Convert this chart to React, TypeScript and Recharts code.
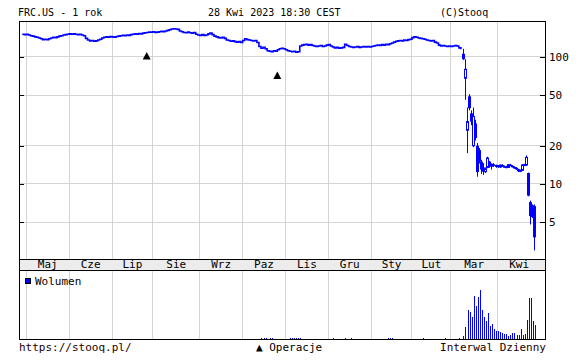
import React from "react";
import {
  ComposedChart,
  BarChart,
  Bar,
  Line,
  Scatter,
  XAxis,
  YAxis,
  CartesianGrid,
} from "recharts";

const BLUE = "#0000ff";
const GRID = "#d4d4d4";
const INK = "#000";
const FONT = "'DejaVu Sans Mono', monospace";

// layout (px)
const W = 585;
const PLOT_L = 19;
const PLOT_R = 545;
const PRICE_TOP = 21;
const PRICE_BOTTOM = 259;
const BAND_BOTTOM = 270;
const VOL_TOP = 271;
const VOL_BOTTOM = 339;
const BODY_W = 3;

// x axis = trading day index (0 = 28 Apr 2022 ... 251 = 28 Apr 2023)
const monthNames = ["Maj", "Cze", "Lip", "Sie", "Wrz", "Paz", "Lis", "Gru", "Sty", "Lut", "Mar", "Kwi"];
const monthStarts = [2, 23, 44, 64, 87, 108, 129, 150, 171, 191, 210, 233];
const lastMonthEnd = 254;
const priceTicks = [5, 10, 20, 50, 100];

// daily closes before the crash (index 0-215)
const quietClose = [
  151, 150, 151, 149, 147, 146, 144, 143, 141, 139,
  137, 138, 137, 139, 141, 143, 142, 144, 146, 147,
  149, 150, 151, 152, 151, 152, 151, 150, 151, 149,
  147, 140, 136, 134, 135, 133, 134, 136, 138, 141,
  143, 144, 143, 145, 144, 143, 145, 146, 147, 148,
  147, 149, 148, 150, 151, 152, 151, 153, 152, 154,
  155, 156, 157, 157, 158, 156, 157, 158, 159, 158,
  160, 162, 164, 166, 167, 166, 165, 160, 158, 156,
  155, 157, 155, 154, 156, 151, 149, 148, 150, 148,
  149, 152, 154, 150, 146, 144, 142, 141, 143, 140,
  136, 135, 133, 134, 132, 131, 132, 130, 135, 139,
  137, 136, 135, 134, 135, 130, 121, 117, 119, 116,
  112, 111, 110, 112, 111, 114, 116, 117, 116, 114,
  112, 111, 110, 111, 109, 110, 122, 124, 125, 126,
  124, 125, 123, 122, 121, 122, 123, 121, 122, 124,
  125, 122, 120, 118, 119, 117, 118, 119, 126, 123,
  121, 120, 119, 120, 121, 119, 120, 121, 120, 121,
  120, 121, 122, 123, 124, 123, 125, 124, 126, 125,
  127, 129, 131, 133, 134, 135, 134, 136, 135, 137,
  138, 142, 144, 143, 141, 140, 139, 138, 136, 135,
  134, 135, 131, 129, 124, 122, 123, 122, 121, 122,
  121, 122, 123, 122, 118, 115,
];

// candles from 9 Mar 2023 (index 216) to 28 Apr 2023 (index 251)
const crashStart = 216;
const crashOpen = [
  106, 68, 26.5, 49, 36, 20, 30, 20, 18.5, 15, 13.5, 12.5, 13.5, 15, 13.8, 14.3, 13.8, 14,
  13.6, 14.1, 13.8, 13.7, 13.5, 14.2, 13.9, 13.6, 13.4, 13.1, 12.6, 12.8, 14.1, 14.1, 12.2, 7.2, 6.8, 6.7,
];
const crashHigh = [
  116, 96, 40, 51, 38, 40, 32, 21, 19.2, 15.5, 14.6, 13.5, 16.4, 15.2, 14.5, 14.6, 14.2, 14.1,
  14.2, 14.3, 14, 13.9, 14.3, 14.4, 14.1, 13.8, 13.6, 13.2, 13, 14.3, 14.4, 16.8, 12.3, 7.4, 6.9, 6.9,
];
const crashLow = [
  95, 46, 17.5, 38, 29, 19.5, 22, 11.4, 14.5, 12, 11.8, 12.2, 13.3, 13.4, 13, 13.6, 13.4, 13.4,
  13.4, 13.6, 13.5, 13.3, 13.4, 13.8, 13.5, 13.2, 12.9, 12.4, 12.4, 12.7, 13.9, 13.9, 8, 4.8, 5.4, 3,
];
const crashClose = [
  96, 80, 31, 39.5, 31, 34, 23, 12.4, 15, 13, 12.5, 13.2, 16, 13.8, 14.3, 13.9, 14, 13.6,
  14.1, 13.8, 13.7, 13.5, 14.2, 13.9, 13.6, 13.4, 13.1, 12.6, 12.8, 14.1, 14.2, 16.2, 8.1, 5.6, 5.5, 3.8,
];

// volume (mln)
const crashVolume = [
  6, 24, 58, 54, 44, 86, 66, 84, 98, 58, 44, 36, 52, 26, 30, 20, 16, 16,
  14, 12, 10, 10, 6, 8, 12, 12, 8, 8, 20, 8, 10, 38, 82, 82, 36, 28,
];
const quietVolumeDays = [117, 118, 119, 121, 122, 131, 132, 133, 134, 135, 136, 152, 158, 161, 179, 180, 181, 196, 207, 214];
const quietVolumeValues = [2, 2, 2, 2, 2, 2, 2, 2, 2, 2, 2, 2, 2, 2, 2, 2, 2, 2, 2, 2];

// operations (dividends)
const opsDays = [61, 125];
const opsLevel = [102, 71.5];

const xDomain = [-1.6, 256.2];
const priceDomain = [2.567, 192];
const volDomain = [0, 136];

const rows: any[] = [];
for (let i = 0; i < crashStart + crashClose.length; i++) {
  const row: any = { i, vol: 0 };
  if (i < crashStart) {
    row.line = quietClose[i];
  } else {
    const k = i - crashStart;
    row.open = crashOpen[k];
    row.high = crashHigh[k];
    row.low = crashLow[k];
    row.close = crashClose[k];
    row.range = [crashLow[k], crashHigh[k]];
    row.vol = crashVolume[k];
  }
  rows.push(row);
}
quietVolumeDays.forEach((d, j) => {
  rows[d].vol = quietVolumeValues[j];
});

const opsData = opsDays.map((d, j) => ({ i: d, v: opsLevel[j] }));

const monthMids = monthStarts.map((s, k) => (s + (monthStarts[k + 1] ?? lastMonthEnd)) / 2);

const Candle = (props: any) => {
  const { x, y, width, height, payload } = props;
  if (!payload || !payload.range || !isFinite(y) || !isFinite(height)) return null;
  const { open, close, high, low } = payload;
  const lh = Math.log(high);
  const ll = Math.log(low);
  const toY = (v: number) => y + (height * (lh - Math.log(v))) / (lh - ll);
  const cx = Math.round(x + width / 2);
  const top = toY(Math.max(open, close));
  const bot = toY(Math.min(open, close));
  const hollow = close > open;
  const left = cx - 1;
  return (
    <g>
      <line x1={cx + 0.5} x2={cx + 0.5} y1={y} y2={y + height} stroke={BLUE} strokeWidth={1} />
      {hollow ? (
        <rect x={left + 0.5} y={top} width={BODY_W - 1} height={Math.max(bot - top, 1)} fill="#fff" stroke={BLUE} strokeWidth={1} />
      ) : (
        <rect x={left} y={top} width={BODY_W} height={Math.max(bot - top, 1.5)} fill={BLUE} />
      )}
    </g>
  );
};

const Tri = (props: any) => {
  const { cx, cy } = props;
  return <path d={`M${cx},${cy - 4} L${cx + 4},${cy + 3.5} L${cx - 4},${cy + 3.5} Z`} fill={INK} />;
};

const MonthMark = (props: any) => {
  const x = Math.round(props.x) + 0.5;
  return (
    <g>
      <line x1={x} x2={x} y1={PRICE_TOP} y2={PRICE_TOP + 4} stroke={INK} />
      <line x1={x} x2={x} y1={PRICE_BOTTOM - 5} y2={PRICE_BOTTOM} stroke={INK} />
    </g>
  );
};

const VolMark = (props: any) => {
  const x = Math.round(props.x) + 0.5;
  return <line x1={x} x2={x} y1={0} y2={4} stroke={INK} />;
};

const MonthLabel = (props: any) => (
  <text x={props.x} y={268} textAnchor="middle" fontSize={11} fontFamily={FONT} fill={INK}>
    {monthNames[props.index]}
  </text>
);

const PriceTick = (props: any) => {
  const y = Math.round(props.y) + 0.5;
  return (
    <g>
      <line x1={PLOT_L} x2={PLOT_L + 5} y1={y} y2={y} stroke={INK} />
      <line x1={PLOT_R - 5} x2={PLOT_R} y1={y} y2={y} stroke={INK} />
      <text x={PLOT_R + 4} y={props.y + 4} fontSize={11} fontFamily={FONT} fill={INK}>
        {props.payload.value}
      </text>
    </g>
  );
};

const VolBar = (props: any) => {
  const { x, y, width, height } = props;
  if (!height || height <= 0) return null;
  return <rect x={Math.round(x + width / 2)} y={y} width={1} height={height} fill={BLUE} />;
};

export default function App() {
  return (
    <div style={{ position: "absolute", left: 0, top: 0, width: W, height: 362, background: "#fff" }}>
      <div
        style={{
          position: "absolute",
          left: PLOT_L,
          top: PRICE_BOTTOM,
          width: PLOT_R - PLOT_L,
          height: BAND_BOTTOM - PRICE_BOTTOM,
          background: "#ececec",
        }}
      />
      <div style={{ position: "absolute", left: 0, top: 0 }}>
        <ComposedChart
          width={W}
          height={PRICE_BOTTOM + 12}
          data={rows}
          margin={{ top: PRICE_TOP, right: 0, bottom: 0, left: PLOT_L }}
        >
          <CartesianGrid stroke={GRID} shapeRendering="crispEdges" />
          <XAxis
            dataKey="i"
            type="number"
            domain={xDomain}
            allowDataOverflow
            ticks={monthStarts}
            interval={0}
            height={0}
            axisLine={false}
            tickLine={false}
            tick={MonthMark}
          />
          <XAxis
            xAxisId="lab"
            dataKey="i"
            type="number"
            domain={xDomain}
            allowDataOverflow
            ticks={monthMids}
            interval={0}
            height={12}
            axisLine={false}
            tickLine={false}
            tick={MonthLabel}
          />
          <YAxis
            orientation="right"
            scale="log"
            domain={priceDomain}
            allowDataOverflow
            ticks={priceTicks}
            interval={0}
            width={40}
            axisLine={false}
            tickLine={false}
            tick={PriceTick}
          />
          <Line
            dataKey="line"
            type="stepAfter"
            stroke={BLUE}
            strokeWidth={1.6}
            dot={false}
            isAnimationActive={false}
          />
          <Bar dataKey="range" barSize={BODY_W} shape={Candle} isAnimationActive={false} />
          <Scatter data={opsData} dataKey="v" shape={Tri} isAnimationActive={false} />
        </ComposedChart>
      </div>
      <div style={{ position: "absolute", left: 0, top: VOL_TOP }}>
        <BarChart
          width={W}
          height={VOL_BOTTOM - VOL_TOP}
          data={rows}
          margin={{ top: 0, right: W - PLOT_R, bottom: 0, left: PLOT_L }}
        >
          <CartesianGrid stroke={GRID} horizontal={false} shapeRendering="crispEdges" />
          <XAxis
            dataKey="i"
            type="number"
            domain={xDomain}
            allowDataOverflow
            ticks={monthStarts}
            interval={0}
            height={0}
            axisLine={false}
            tickLine={false}
            tick={VolMark}
          />
          <YAxis hide domain={volDomain} />
          <Bar dataKey="vol" barSize={1} fill={BLUE} shape={VolBar} isAnimationActive={false} />
        </BarChart>
      </div>
      <svg
        width={W}
        height={362}
        style={{ position: "absolute", left: 0, top: 0, pointerEvents: "none" }}
        fontFamily={FONT}
      >
        <rect
          x={PLOT_L + 0.5}
          y={PRICE_TOP + 0.5}
          width={PLOT_R - PLOT_L}
          height={VOL_BOTTOM - PRICE_TOP}
          fill="none"
          stroke={INK}
        />
        <line x1={PLOT_L} x2={PLOT_R + 1} y1={PRICE_BOTTOM + 0.5} y2={PRICE_BOTTOM + 0.5} stroke={INK} />
        <line x1={PLOT_L} x2={PLOT_R + 1} y1={BAND_BOTTOM + 0.5} y2={BAND_BOTTOM + 0.5} stroke={INK} />

        <text x={18} y={16} fontSize={10} fill={INK}>FRC.US - 1 rok</text>
        <text x={208} y={16} fontSize={10} fill={INK}>28 Kwi 2023 18:30 CEST</text>
        <text x={440} y={16} fontSize={10} fill={INK}>(C)Stooq</text>

        <rect x={25.5} y={278.5} width={5} height={5} fill={BLUE} stroke={INK} />
        <text x={35} y={285} fontSize={11} fill={INK}>Wolumen</text>

        <text x={19} y={351} fontSize={11} fill="#200">https://stooq.pl/</text>
        <text x={256} y={351} fontSize={11} fill={INK}>▲ Operacje</text>
        <text x={546} y={351} fontSize={11} fill="#200" textAnchor="end">Interwal Dzienny</text>
      </svg>
    </div>
  );
}
